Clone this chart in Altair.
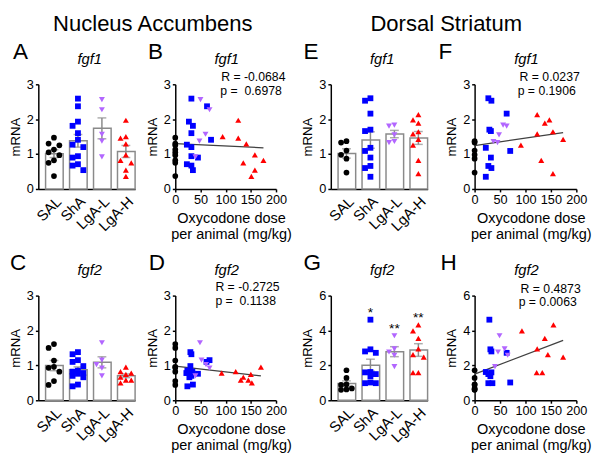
import altair as alt
import pandas as pd

FONT = "Liberation Sans"
GRAY = "#8a8a8a"
GROUPS = ["SAL", "ShA", "LgA-L", "LgA-H"]
COLORS = ["#000000", "#0000ff", "#b266ff", "#ff0000"]
SHAPES = ["circle", "square", "triangle-down", "triangle-up"]
SIZES = [34, 38, 50, 50]
DOSE_TICKS = [0, 50, 100, 150, 200]

# ---------------- Nucleus accumbens, fgf1 (A, B) ----------------
nac_fgf1_sal = [1.47, 1.30, 1.25, 1.13, 1.05, 0.97, 0.82, 0.75, 0.37]
nac_fgf1_sha_dose = [32, 63, 27, 35, 32, 71, 23, 32, 32, 45, 23, 32, 35]
nac_fgf1_sha = [2.59, 2.37, 1.93, 1.81, 1.60, 1.41, 1.27, 1.20, 0.94, 0.90, 0.71, 0.67, 0.54]
nac_fgf1_lgal_dose = [50, 68, 60, 48, 40]
nac_fgf1_lgal = [2.56, 2.27, 1.57, 1.37, 0.92]
nac_fgf1_lgah_dose = [94, 125, 125, 141, 158, 135, 175, 158, 151]
nac_fgf1_lgah = [1.50, 1.97, 1.46, 1.29, 0.98, 0.75, 0.82, 0.54, 0.36]

# ---------------- Nucleus accumbens, fgf2 (C, D) ----------------
nac_fgf2_sal = [1.61, 1.50, 1.14, 0.96, 0.93, 0.82, 0.55, 0.44]
nac_fgf2_sha_dose = [30, 32, 68, 62, 30, 24, 34, 22, 45, 32, 28, 35, 24]
nac_fgf2_sha = [1.38, 1.32, 1.15, 1.10, 0.98, 0.85, 0.82, 0.78, 0.76, 0.70, 0.66, 0.45, 0.40]
nac_fgf2_lgal_dose = [49, 52, 61, 68, 40]
nac_fgf2_lgal = [1.65, 1.15, 1.02, 0.92, 0.70]
nac_fgf2_lgah_dose = [92, 120, 130, 135, 145, 150, 152, 170]
nac_fgf2_lgah = [0.78, 0.82, 0.58, 0.66, 0.58, 0.74, 0.50, 0.95]

# ---------------- Dorsal striatum, fgf1 (E, F) ----------------
ds_fgf1_sal = [1.37, 1.33, 1.10, 0.98, 0.87, 0.47]
ds_fgf1_sha_dose = [27, 33, 63, 29, 32, 22, 70, 32, 27, 33, 22]
ds_fgf1_sha = [2.60, 2.53, 2.16, 1.70, 1.66, 1.18, 1.09, 0.90, 0.66, 0.60, 0.35]
ds_fgf1_lgal_dose = [56, 63, 48, 37, 45]
ds_fgf1_lgal = [1.83, 1.80, 1.55, 1.36, 1.33]
ds_fgf1_lgah_dose = [123, 138, 147, 154, 123, 91, 174, 131, 154]
ds_fgf1_lgah = [2.13, 1.89, 1.98, 1.64, 1.58, 1.26, 1.42, 0.82, 0.44]

# ---------------- Dorsal striatum, fgf2 (G, H) ----------------
ds_fgf2_sal = [1.72, 1.28, 0.92, 0.88, 0.68, 0.62, 0.60]
ds_fgf2_sha_dose = [29, 31, 33, 63, 22, 33, 27, 31, 27, 35, 70]
ds_fgf2_sha = [4.62, 2.92, 2.80, 2.72, 1.62, 1.60, 1.50, 1.38, 0.98, 0.98, 1.02]
ds_fgf2_lgal_dose = [49, 46, 59, 65, 40]
ds_fgf2_lgal = [3.70, 2.77, 2.95, 2.58, 1.93]
ds_fgf2_lgah_dose = [93, 155, 138, 123, 144, 174, 122, 133]
ds_fgf2_lgah = [3.98, 4.32, 3.55, 2.95, 2.62, 2.47, 1.58, 1.58]

# significance marks in G
g_star_groups = ["ShA", "LgA-L", "LgA-H"]
g_star_text = ["*", "**", "**"]
g_star_y = [4.75, 3.85, 4.5]

# correlation annotations
stats_text = {
    "B": ("R = -0.0684", "p =\u00a0 0.6978"),
    "D": ("R = -0.2725", "p =\u00a0 0.1138"),
    "F": ("R = 0.0237", "p = 0.1906"),
    "H": ("R = 0.4873", "p = 0.0063"),
}

H = 107
W_BAR = 99
W_SC1 = 103
W_SC2 = 104
GAPS = [41, 56, 48]
ROW_GAP = 109


def swarm(vals, ymax, d=6.2, cands=(0.0, -5.5, 5.5)):
    ppu = H / ymax
    placed = []
    offs = [0.0] * len(vals)
    for i in sorted(range(len(vals)), key=lambda k: -vals[k]):
        y = vals[i] * ppu
        best, best_md = cands[0], -1.0
        for c in cands:
            md = min([((c - o) ** 2 + (y - yy) ** 2) ** 0.5 for o, yy in placed], default=99.0)
            if md >= d:
                best = c
                break
            if md > best_md:
                best, best_md = c, md
        offs[i] = best
        placed.append((best, y))
    return offs


def group_df(sal, sha_d, sha, lgl_d, lgl, lgh_d, lgh, ymax):
    rows = []
    for g, d, v in zip(GROUPS, [[0] * len(sal), sha_d, lgl_d, lgh_d], [sal, sha, lgl, lgh]):
        offs = swarm(v, ymax)
        for dd, vv, oo in zip(d, v, offs):
            rows.append({"group": g, "dose": dd, "v": vv, "jit": oo})
    return pd.DataFrame(rows)


def text_layer(t, x, y, size, align="left", italic=False, weight="normal"):
    return alt.Chart(pd.DataFrame({"t": [t]})).mark_text(
        align=align, baseline="alphabetic", font=FONT, fontSize=size,
        fontStyle="italic" if italic else "normal", fontWeight=weight, color="black"
    ).encode(text="t:N", x=alt.value(x), y=alt.value(y))


color_enc = alt.Color("group:N", scale=alt.Scale(domain=GROUPS, range=COLORS), legend=None)
shape_enc = alt.Shape("group:N", scale=alt.Scale(domain=GROUPS, range=SHAPES), legend=None)
size_enc = alt.Size("group:N", scale=alt.Scale(domain=GROUPS, range=SIZES), legend=None)


def y_parts(ymax, yvals):
    return (alt.Scale(domain=[0, ymax], nice=False),
            alt.Axis(values=yvals, title="mRNA", format="d", labelOverlap=False))


def bar_panel(df, ymax, yvals, gene, letter, lx, ly, extra=(), stars=None):
    pi, po, al = 0.3, 0.17, 0.89
    step = W_BAR / (4 - pi + 2 * po)
    bw = step * (1 - pi)
    x = alt.X("group:N", sort=GROUPS,
              scale=alt.Scale(domain=GROUPS, paddingInner=pi, paddingOuter=po, align=al),
              axis=alt.Axis(title=None, labelAngle=-45, labelAlign="right", labelBaseline="top",
                            labelPadding=5, ticks=False, labelFontSize=15))
    ys, ya = y_parts(ymax, yvals)
    base = alt.Chart(df)
    bars = base.mark_bar(fill="white", stroke=GRAY, strokeWidth=1.5).encode(
        x=x, y=alt.Y("mean(v):Q", scale=ys, axis=ya))
    st = base.transform_aggregate(m="mean(v)", s="stderr(v)", groupby=["group"]).transform_calculate(
        lo="datum.m - datum.s", hi="datum.m + datum.s")
    rule = st.mark_rule(color=GRAY, strokeWidth=1.5).encode(
        x=x, y=alt.Y("lo:Q", scale=ys, axis=ya), y2="hi:Q")
    cap_lo = st.mark_tick(color=GRAY, thickness=1.5, size=9).encode(
        x=x, y=alt.Y("lo:Q", scale=ys, axis=ya))
    cap_hi = st.mark_tick(color=GRAY, thickness=1.5, size=9).encode(
        x=x, y=alt.Y("hi:Q", scale=ys, axis=ya))
    pts = base.mark_point(filled=True, opacity=1, strokeWidth=0).encode(
        x=x,
        xOffset=alt.XOffset("jit:Q", scale=alt.Scale(domain=[-bw / 2, bw / 2], range=[0, bw])),
        y=alt.Y("v:Q", scale=ys, axis=ya),
        color=color_enc, shape=shape_enc, size=size_enc)
    layers = [bars, rule, cap_lo, cap_hi, pts]
    if stars is not None:
        sdf = pd.DataFrame({"group": stars[0], "t": stars[1], "y": stars[2]})
        layers.append(alt.Chart(sdf).mark_text(font=FONT, fontSize=14, baseline="alphabetic",
                                               color="black").encode(
            x=x, y=alt.Y("y:Q", scale=ys, axis=ya), text="t:N"))
    layers.append(text_layer(gene, W_BAR / 2 + 3, -21, 15, align="center", italic=True))
    layers.append(text_layer(letter, lx, ly, 23))
    layers.extend(extra)
    return alt.layer(*layers).properties(width=W_BAR, height=H)


def scatter_panel(df, width, ymax, yvals, gene, letter, lx, ly, key, rx, px, ry, py):
    x = alt.X("dose:Q", scale=alt.Scale(domain=[0, 200], nice=False),
              axis=alt.Axis(values=DOSE_TICKS, title=None, labelFlush=False, labelOverlap=False,
                            labelFontSize=13, tickSize=3))
    ys, ya = y_parts(ymax, yvals)
    base = alt.Chart(df)
    reg = base.transform_regression("dose", "v").mark_line(color="#404040", strokeWidth=1.3).encode(
        x=x, y=alt.Y("v:Q", scale=ys, axis=ya))
    pts = base.mark_point(filled=True, opacity=1, strokeWidth=0).encode(
        x=x, y=alt.Y("v:Q", scale=ys, axis=ya),
        color=color_enc, shape=shape_enc, size=size_enc)
    rt, pt = stats_text[key]
    layers = [
        reg, pts,
        text_layer(rt, rx, ry, 12.5),
        text_layer(pt, px, py, 12.5),
        text_layer("Oxycodone dose", width / 2 + 6, H + 34.5, 14.8, align="center"),
        text_layer("per animal (mg/kg)", width / 2 + 6, H + 51, 14.8, align="center"),
        text_layer(gene, width / 2 + 1, -21, 15, align="center", italic=True),
        text_layer(letter, lx, ly, 23),
    ]
    return alt.layer(*layers).properties(width=width, height=H)


def spacer(w):
    return alt.Chart(pd.DataFrame({"a": [0]})).mark_point(opacity=0).encode(
        x=alt.value(0), y=alt.value(0)).properties(width=w, height=H)


df_nac1 = group_df(nac_fgf1_sal, nac_fgf1_sha_dose, nac_fgf1_sha, nac_fgf1_lgal_dose, nac_fgf1_lgal,
                   nac_fgf1_lgah_dose, nac_fgf1_lgah, 3)
df_nac2 = group_df(nac_fgf2_sal, nac_fgf2_sha_dose, nac_fgf2_sha, nac_fgf2_lgal_dose, nac_fgf2_lgal,
                   nac_fgf2_lgah_dose, nac_fgf2_lgah, 3)
df_ds1 = group_df(ds_fgf1_sal, ds_fgf1_sha_dose, ds_fgf1_sha, ds_fgf1_lgal_dose, ds_fgf1_lgal,
                  ds_fgf1_lgah_dose, ds_fgf1_lgah, 3)
df_ds2 = group_df(ds_fgf2_sal, ds_fgf2_sha_dose, ds_fgf2_sha, ds_fgf2_lgal_dose, ds_fgf2_lgal,
                  ds_fgf2_lgah_dose, ds_fgf2_lgah, 6)

Y3 = [0, 1, 2, 3]
Y6 = [0, 2, 4, 6]

pA = bar_panel(df_nac1, 3, Y3, "fgf1", "A", -26, -26,
               extra=[text_layer("Nucleus Accumbens", 117, -55, 22.5, align="center")])
pB = scatter_panel(df_nac1, W_SC1, 3, Y3, "fgf1", "B", -28, -26, "B", 47, 46, -3, 11)
pE = bar_panel(df_ds1, 3, Y3, "fgf1", "E", -28, -26,
               extra=[text_layer("Dorsal Striatum", 118, -55, 22.5, align="center")])
pF = scatter_panel(df_ds1, W_SC2, 3, Y3, "fgf1", "F", -37, -26, "F", 46, 44, -3, 11)

pC = bar_panel(df_nac2, 3, Y3, "fgf2", "C", -29, -26)
pD = scatter_panel(df_nac2, W_SC1, 3, Y3, "fgf2", "D", -27, -26, "D", 41, 41, -5, 10)
pG = bar_panel(df_ds2, 6, Y6, "fgf2", "G", -28, -26, stars=(g_star_groups, g_star_text, g_star_y))
pH = scatter_panel(df_ds2, W_SC2, 6, Y6, "fgf2", "H", -35, -26, "H", 47, 45, -3, 11)

chart = alt.ConcatChart(
    concat=[pA, spacer(GAPS[0]), pB, spacer(GAPS[1]), pE, spacer(GAPS[2]), pF,
            pC, spacer(GAPS[0]), pD, spacer(GAPS[1]), pG, spacer(GAPS[2]), pH],
    columns=7,
    spacing={"row": ROW_GAP, "column": 0},
    bounds="flush",
    align="each",
).properties(padding=0, background="white").configure_view(stroke=None).configure_axis(
    domainColor="black", domainWidth=1.5, tickColor="black", tickWidth=1.5, tickSize=3,
    labelColor="black", labelFont=FONT, labelFontSize=13, labelPadding=2,
    titleFont=FONT, titleColor="black", titleFontSize=13.5, titleFontWeight="normal",
    titlePadding=4, grid=False,
)

chart.save("out.html", embed_options={"renderer": "svg", "actions": False})
